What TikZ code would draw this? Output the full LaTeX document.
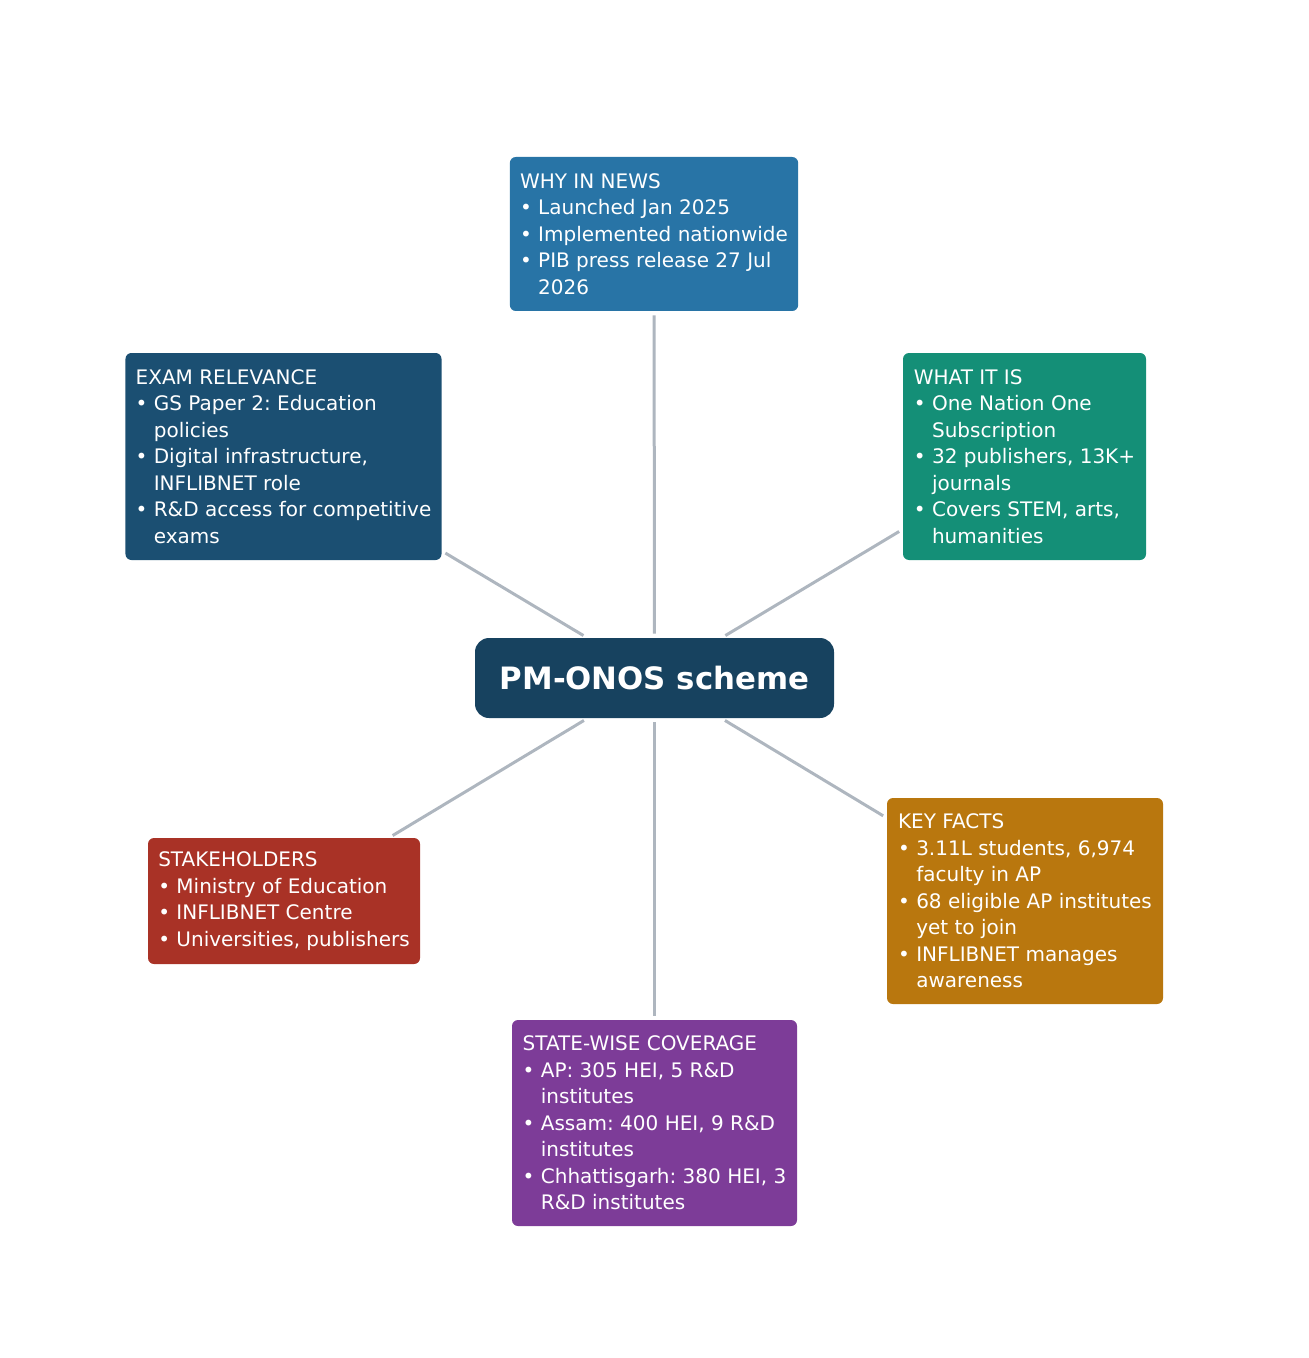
\documentclass[tikz,border=0pt]{standalone}
\usepackage{xcolor}
\usepackage{fontspec}
\setmainfont{DejaVu Sans}
\usepackage{tikz}
\usetikzlibrary{positioning, calc}

\definecolor{hubc}{HTML}{17425F}
\definecolor{newsc}{HTML}{2874A6}
\definecolor{examc}{HTML}{1B4F72}
\definecolor{whatc}{HTML}{148F77}
\definecolor{stakec}{HTML}{A93226}
\definecolor{factc}{HTML}{B9770E}
\definecolor{statec}{HTML}{7D3C98}
\definecolor{linkc}{HTML}{AEB6BF}

\newcommand{\hangpad}{\phantom{\textbullet\ }}
\frenchspacing

\tikzset{
  card/.style={rectangle, rounded corners=3pt, text=white, align=left,
    inner xsep=5.1pt, inner ysep=3pt,
    font=\fontsize{10}{13.25}\selectfont},
  link/.style={draw=linkc, line width=1.5pt, shorten <=2pt, shorten >=2pt}
}

\begin{document}
\begin{tikzpicture}[x=0.5pt, y=-0.5pt]
  \useasboundingbox (0,0) rectangle (1308,1358);

  % Hub
  \node (hub) [rectangle, rounded corners=7pt, fill=hubc, text=white,
    minimum width=179.5pt, minimum height=40pt,
    font=\fontsize{15.4}{18}\selectfont\bfseries] at (654.5,678) {PM-ONOS scheme};

  % Top
  \node (news) [card, fill=newsc, minimum width=144pt, minimum height=77pt]
    at (654,234)
    {WHY IN NEWS\\
     \textbullet\ Launched Jan 2025\\
     \textbullet\ Implemented nationwide\\
     \textbullet\ PIB press release 27 Jul\\
     \hangpad 2026};

  % Left column
  \node (exam) [card, fill=examc, minimum width=156.5pt, minimum height=103.5pt]
    at (283.5,456.5)
    {EXAM RELEVANCE\\
     \textbullet\ GS Paper 2: Education\\
     \hangpad policies\\
     \textbullet\ Digital infrastructure,\\
     \hangpad INFLIBNET role\\
     \textbullet\ R\&D access for competitive\\
     \hangpad exams};

  \node (stake) [card, fill=stakec, minimum width=136pt, minimum height=63pt]
    at (284,901)
    {STAKEHOLDERS\\
     \textbullet\ Ministry of Education\\
     \textbullet\ INFLIBNET Centre\\
     \textbullet\ Universities, publishers};

  % Right column
  \node (what) [card, fill=whatc, minimum width=121.5pt, minimum height=103.5pt]
    at (1024.5,456.5)
    {WHAT IT IS\\
     \textbullet\ One Nation One\\
     \hangpad Subscription\\
     \textbullet\ 32 publishers, 13K+\\
     \hangpad journals\\
     \textbullet\ Covers STEM, arts,\\
     \hangpad humanities};

  \node (facts) [card, fill=factc, minimum width=138pt, minimum height=103pt]
    at (1025,901)
    {KEY FACTS\\
     \textbullet\ 3.11L students, 6,974\\
     \hangpad faculty in AP\\
     \textbullet\ 68 eligible AP institutes\\
     \hangpad yet to join\\
     \textbullet\ INFLIBNET manages\\
     \hangpad awareness};

  % Bottom
  \node (states) [card, fill=statec, minimum width=142.5pt, minimum height=103pt]
    at (654.5,1123)
    {STATE-WISE COVERAGE\\
     \textbullet\ AP: 305 HEI, 5 R\&D\\
     \hangpad institutes\\
     \textbullet\ Assam: 400 HEI, 9 R\&D\\
     \hangpad institutes\\
     \textbullet\ Chhattisgarh: 380 HEI, 3\\
     \hangpad R\&D institutes};

  % Spokes
  \foreach \n in {news, exam, what, stake, facts, states}
    \draw[link] (hub) -- (\n);
\end{tikzpicture}
\end{document}
